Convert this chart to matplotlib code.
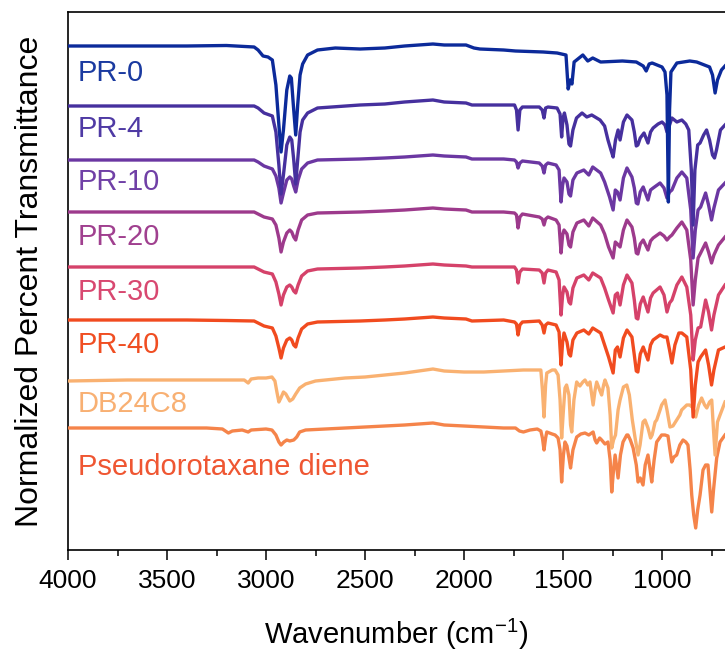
import matplotlib
matplotlib.use("Agg")
import matplotlib.pyplot as plt
from matplotlib.ticker import MultipleLocator

plt.rcParams['font.family'] = ['Liberation Sans', 'DejaVu Sans']
plt.rcParams['mathtext.default'] = 'regular'

# FTIR spectra, (wavenumber cm-1, stacked normalized transmittance) vertices
pr0 = [(4000, 504), (3700, 504), (3400, 504), (3200, 504.5), (3060, 503), (3040, 500),
       (3015, 494), (2990, 493), (2968, 490), (2950, 465), (2935, 425), (2924, 398),
       (2912, 420), (2895, 460), (2880, 474), (2872, 472), (2862, 445), (2850, 415),
       (2840, 445), (2828, 475), (2815, 486), (2790, 495), (2740, 500), (2650, 502),
       (2525, 501), (2400, 502), (2300, 504), (2157, 506), (2100, 505), (1990, 505),
       (1950, 502), (1920, 501), (1800, 500), (1740, 499), (1600, 498), (1530, 497),
       (1485, 495), (1474, 461), (1464, 470), (1455, 466), (1444, 488), (1400, 495),
       (1375, 489), (1350, 492), (1310, 488), (1200, 489), (1130, 488), (1095, 484),
       (1080, 479), (1065, 486), (1050, 487), (1000, 483), (985, 478), (975, 455),
       (968, 348), (962, 440), (955, 478), (925, 487), (860, 489), (825, 488),
       (760, 483), (745, 475), (732, 457), (720, 470), (700, 480), (682, 484)]

pr4 = [(4000, 444), (3400, 444), (3060, 444), (3040, 442), (3010, 437), (2968, 434),
       (2950, 418), (2935, 385), (2924, 356), (2912, 375), (2895, 405), (2880, 413),
       (2870, 410), (2860, 390), (2850, 366), (2840, 390), (2828, 418), (2815, 430),
       (2790, 437), (2740, 442), (2525, 445), (2400, 446), (2300, 448), (2157, 450),
       (2100, 448), (1990, 447), (1960, 445), (1800, 445), (1745, 445), (1735, 440),
       (1727, 420), (1718, 440), (1705, 443), (1620, 443), (1605, 440), (1596, 432),
       (1588, 442), (1576, 443), (1530, 442), (1515, 436), (1507, 413), (1500, 432),
       (1493, 437), (1480, 425), (1470, 406), (1462, 404), (1450, 420), (1432, 432),
       (1404, 437), (1380, 433), (1355, 435), (1313, 430), (1290, 424), (1273, 410),
       (1258, 400), (1247, 393), (1235, 410), (1222, 420), (1212, 410), (1195, 428),
       (1177, 435), (1152, 430), (1140, 418), (1130, 404), (1122, 405), (1110, 412),
       (1091, 417), (1071, 407), (1058, 418), (1045, 422), (1020, 426), (1000, 428),
       (985, 425), (975, 418), (962, 425), (950, 432), (925, 428), (900, 430),
       (880, 426), (865, 420), (852, 380), (843, 325), (834, 380), (820, 405),
       (808, 407), (790, 415), (775, 420), (760, 410), (745, 395), (735, 392),
       (725, 400), (705, 420), (682, 425)]

pr10 = [(4000, 390), (3400, 390), (3060, 390), (3040, 388), (3010, 384), (2968, 381),
        (2950, 374), (2935, 362), (2924, 347), (2912, 357), (2895, 370), (2880, 373),
        (2870, 371), (2860, 364), (2850, 358), (2838, 370), (2820, 381), (2790, 387),
        (2740, 390), (2525, 391), (2400, 392), (2300, 393), (2157, 395), (2100, 394),
        (1990, 393), (1960, 391), (1800, 391), (1745, 390), (1735, 388), (1727, 382),
        (1718, 387), (1705, 389), (1620, 387), (1605, 384), (1596, 377), (1588, 385),
        (1576, 387), (1535, 385), (1520, 380), (1510, 348), (1502, 365), (1495, 372),
        (1480, 368), (1470, 356), (1462, 354), (1450, 370), (1430, 377), (1395, 380),
        (1370, 375), (1350, 383), (1310, 377), (1290, 368), (1265, 353), (1247, 340),
        (1236, 360), (1225, 358), (1212, 350), (1195, 372), (1177, 382), (1152, 373),
        (1140, 362), (1130, 347), (1122, 346), (1110, 358), (1095, 363), (1071, 350),
        (1058, 360), (1045, 362), (1010, 367), (990, 362), (975, 352), (962, 358),
        (950, 360), (925, 372), (900, 378), (875, 372), (855, 340), (843, 292),
        (832, 320), (818, 340), (805, 343), (780, 357), (765, 345), (750, 330),
        (738, 342), (715, 360), (682, 367)]

pr20 = [(4000, 338), (3400, 338), (3060, 338), (3040, 336), (3010, 333), (2968, 331),
        (2950, 325), (2935, 312), (2924, 298), (2912, 308), (2895, 317), (2880, 320),
        (2870, 318), (2860, 313), (2850, 310), (2838, 320), (2820, 330), (2790, 335),
        (2740, 337), (2525, 338), (2400, 339), (2300, 340), (2157, 342), (2100, 341),
        (1990, 340), (1960, 338), (1800, 338), (1745, 337), (1735, 335), (1727, 322),
        (1718, 333), (1705, 336), (1620, 333), (1605, 331), (1596, 325), (1588, 331),
        (1576, 333), (1535, 330), (1520, 325), (1510, 297), (1502, 315), (1495, 320),
        (1480, 316), (1470, 305), (1462, 303), (1450, 318), (1430, 327), (1395, 330),
        (1370, 324), (1350, 332), (1310, 325), (1290, 316), (1270, 303), (1247, 292),
        (1236, 308), (1225, 306), (1212, 303), (1195, 320), (1177, 330), (1152, 323),
        (1140, 312), (1130, 297), (1122, 296), (1110, 306), (1095, 310), (1071, 300),
        (1058, 309), (1045, 312), (1010, 317), (990, 314), (975, 310), (962, 313),
        (950, 315), (925, 322), (900, 328), (875, 320), (855, 290), (843, 245),
        (832, 270), (818, 292), (805, 297), (780, 307), (765, 298), (750, 287),
        (738, 295), (715, 305), (682, 313)]

pr30 = [(4000, 283), (3400, 283), (3060, 283), (3040, 281), (3010, 278), (2968, 276),
        (2950, 268), (2935, 256), (2924, 245), (2912, 255), (2895, 263), (2880, 265),
        (2870, 263), (2860, 259), (2850, 257), (2838, 265), (2820, 274), (2790, 279),
        (2740, 281), (2525, 282), (2400, 283), (2300, 284), (2157, 286), (2100, 285),
        (1990, 284), (1960, 283), (1800, 283), (1745, 283), (1735, 280), (1727, 267),
        (1718, 278), (1705, 281), (1620, 280), (1605, 277), (1596, 267), (1588, 277),
        (1576, 280), (1535, 278), (1520, 270), (1510, 235), (1502, 255), (1495, 263),
        (1480, 258), (1470, 248), (1462, 246), (1450, 262), (1430, 272), (1395, 275),
        (1370, 270), (1350, 277), (1310, 272), (1290, 262), (1270, 250), (1247, 237),
        (1236, 255), (1225, 257), (1212, 245), (1195, 265), (1177, 275), (1152, 267),
        (1140, 250), (1130, 232), (1122, 231), (1110, 246), (1095, 253), (1071, 238),
        (1058, 252), (1045, 257), (1010, 263), (990, 255), (975, 238), (962, 247),
        (950, 250), (925, 265), (900, 273), (875, 263), (855, 235), (843, 190),
        (832, 210), (818, 222), (805, 223), (780, 250), (765, 238), (750, 220),
        (738, 235), (715, 255), (682, 265)]

pr40 = [(4000, 230), (3400, 230), (3200, 229.5), (3060, 229), (3040, 227), (3010, 224),
        (2968, 222), (2950, 214), (2935, 202), (2924, 192), (2912, 202), (2895, 210),
        (2880, 212), (2870, 210), (2860, 205), (2850, 203), (2838, 212), (2820, 221),
        (2790, 226), (2740, 228), (2525, 229), (2400, 230), (2300, 231), (2157, 233),
        (2100, 232), (1990, 231), (1960, 229), (1800, 230), (1745, 228), (1735, 226),
        (1727, 215), (1718, 225), (1705, 228), (1620, 229), (1605, 225), (1596, 217),
        (1588, 225), (1576, 227), (1535, 225), (1520, 218), (1510, 185), (1502, 208),
        (1495, 217), (1480, 208), (1470, 196), (1462, 194), (1450, 210), (1430, 217),
        (1395, 220), (1370, 216), (1350, 222), (1310, 217), (1290, 205), (1270, 193),
        (1247, 177), (1236, 200), (1225, 203), (1212, 193), (1195, 212), (1177, 220),
        (1152, 213), (1140, 195), (1130, 179), (1122, 178), (1110, 196), (1095, 203),
        (1071, 190), (1058, 205), (1045, 210), (1010, 215), (990, 213), (975, 213),
        (962, 200), (950, 187), (935, 205), (915, 217), (900, 217), (875, 213),
        (855, 180), (843, 133), (832, 165), (818, 188), (805, 193), (780, 200),
        (765, 185), (750, 165), (738, 180), (715, 200), (682, 203)]

db24c8 = [(4000, 169), (3700, 170), (3400, 170), (3200, 170), (3110, 170), (3090, 167),
          (3075, 171), (3040, 172), (3000, 172), (2970, 173), (2955, 169), (2945, 158),
          (2935, 148), (2925, 152), (2912, 158), (2900, 156), (2880, 149), (2865, 151),
          (2850, 156), (2830, 162), (2800, 166), (2750, 169), (2700, 170), (2600, 172),
          (2500, 173), (2400, 175), (2300, 177), (2157, 181), (2100, 179), (2000, 178),
          (1900, 178), (1800, 179), (1700, 180), (1667, 180), (1612, 180), (1604, 160),
          (1596, 133), (1588, 165), (1582, 177), (1555, 180), (1540, 180), (1525, 175),
          (1515, 150), (1507, 112), (1498, 140), (1490, 162), (1482, 165), (1470, 155),
          (1462, 125), (1456, 118), (1445, 150), (1431, 168), (1415, 164), (1400, 168),
          (1389, 170), (1375, 165), (1364, 168), (1348, 145), (1338, 160), (1330, 168),
          (1315, 160), (1305, 155), (1295, 165), (1288, 170), (1273, 162), (1262, 135),
          (1254, 102), (1245, 110), (1235, 115), (1222, 140), (1212, 150), (1195, 163),
          (1178, 165), (1165, 155), (1150, 130), (1136, 112), (1121, 95), (1111, 105),
          (1096, 128), (1086, 130), (1071, 122), (1058, 112), (1050, 115), (1035, 128),
          (1027, 130), (1010, 140), (1002, 145), (985, 150), (975, 140), (960, 123),
          (945, 124), (926, 130), (910, 135), (901, 140), (875, 145), (860, 145),
          (843, 142), (830, 133), (815, 145), (800, 152), (785, 145), (774, 142),
          (760, 148), (749, 150), (740, 120), (732, 95), (720, 128), (707, 135), (682, 148)]

pseudo = [(4000, 122), (3600, 122), (3300, 122), (3220, 121), (3190, 117), (3170, 119),
          (3120, 120), (3090, 118), (3075, 120), (3000, 121), (2970, 120), (2950, 115),
          (2935, 108), (2924, 105), (2910, 108), (2895, 110), (2880, 109), (2860, 110),
          (2845, 113), (2830, 118), (2800, 120), (2700, 121), (2600, 122), (2500, 123),
          (2400, 124), (2300, 125), (2157, 127), (2100, 125), (2000, 124), (1900, 123),
          (1800, 122), (1740, 122), (1720, 119), (1700, 118), (1667, 120), (1630, 121),
          (1612, 119), (1604, 112), (1596, 100), (1588, 112), (1582, 118), (1555, 116),
          (1540, 115), (1525, 112), (1515, 100), (1507, 68), (1498, 95), (1490, 108),
          (1480, 104), (1470, 92), (1462, 82), (1450, 100), (1431, 113), (1410, 116),
          (1389, 117), (1370, 115), (1348, 118), (1338, 110), (1330, 107), (1315, 112),
          (1305, 110), (1288, 106), (1273, 108), (1262, 90), (1254, 58), (1245, 80),
          (1237, 95), (1222, 72), (1210, 95), (1197, 108), (1178, 115), (1172, 115),
          (1160, 110), (1146, 102), (1130, 85), (1121, 68), (1110, 72), (1096, 65),
          (1085, 85), (1071, 95), (1060, 80), (1052, 68), (1040, 90), (1027, 108),
          (1002, 115), (985, 115), (970, 114), (960, 100), (951, 88), (940, 93),
          (926, 95), (910, 105), (894, 110), (880, 108), (869, 105), (858, 80),
          (850, 55), (840, 35), (830, 22), (820, 40), (808, 55), (793, 80), (780, 85),
          (768, 85), (758, 60), (749, 38), (740, 60), (724, 92), (707, 108), (682, 115)]

spectra = [pr0, pr4, pr10, pr20, pr30, pr40, db24c8, pseudo]
names = ["PR-0", "PR-4", "PR-10", "PR-20", "PR-30", "PR-40", "DB24C8", "Pseudorotaxane diene"]
line_colors = ["#0c2a9a", "#46309e", "#6b37a2", "#9d3a8c", "#d5426a", "#f14b1f", "#f9b171", "#f5844a"]
text_colors = ["#1a3aa0", "#4f3aa4", "#7040a6", "#a0408f", "#d84870", "#f04e22", "#f8b073", "#ef5632"]
label_y = [469, 413, 360, 305, 250, 197, 138, 75]

fig = plt.figure(figsize=(7.25, 6.52), dpi=100)
ax = fig.add_axes([68 / 725, 1 - 550 / 652, 657 / 725, 538 / 652])

n = len(spectra)
for i, spec in enumerate(spectra):
    wn = [p[0] for p in spec]
    t = [p[1] for p in spec]
    ax.plot(wn, t, color=line_colors[i], lw=2.4, zorder=10 + n - i,
            solid_joinstyle="round")
    ax.text(3950, label_y[i], names[i], color=text_colors[i], fontsize=21,
            va="baseline", ha="left")

ax.set_xlim(4000, 682)
ax.set_ylim(0, 538)
ax.xaxis.set_major_locator(MultipleLocator(500))
ax.xaxis.set_minor_locator(MultipleLocator(250))
ax.tick_params(axis="x", which="major", direction="out", length=7.5, width=1.1,
               labelsize=19, pad=6)
ax.tick_params(axis="x", which="minor", direction="out", length=4.5, width=1.1)
ax.set_yticks([])
ax.spines["right"].set_visible(False)
for s in ("left", "top", "bottom"):
    ax.spines[s].set_linewidth(1.2)

ax.set_xlabel("Wavenumber (cm$^{-1}$)", fontsize=21)
ax.xaxis.set_label_coords(0.5, -0.125)
ax.set_ylabel("Normalized Percent Transmittance", fontsize=23)
ax.yaxis.set_label_coords(-0.035, 0.5)

fig.savefig("out.png", dpi=100)
